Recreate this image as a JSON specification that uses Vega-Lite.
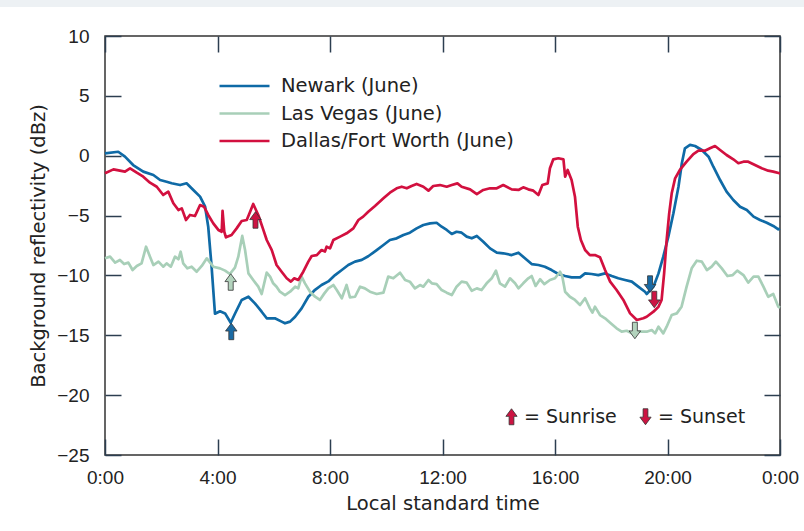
{
  "$schema": "https://vega.github.io/schema/vega-lite/v6.json",
  "width": 675,
  "height": 419,
  "autosize": {"type": "none"},
  "padding": {"left": 105, "top": 36, "right": 24, "bottom": 76},
  "background": "#ffffff",
  "config": {
    "font": "Liberation Sans",
    "view": {"stroke": "#333333", "strokeWidth": 1.5},
    "axis": {
      "zindex": 1, "domain": false, "grid": false,
      "tickColor": "#2c3e50", "tickWidth": 1.5, "tickSize": -16,
      "labelFontSize": 19, "labelColor": "#222222", "labelFont": "Liberation Sans",
      "titleFontSize": 19.5, "titleColor": "#222222", "titleFont": "DejaVu Sans", "titleFontWeight": "normal",
      "labelFlush": false, "labelOverlap": false
    },
    "legend": {"labelFont": "DejaVu Sans", "labelColor": "#222222", "labelLimit": 0}
  },
  "datasets": {
    "frame": [{"part": "left"}, {"part": "top"}],
    "series": [
      {"c":"Newark (June)","t":0,"v":0.2},{"c":"Newark (June)","t":0.47,"v":0.33},{"c":"Newark (June)","t":0.71,"v":-0.08},{"c":"Newark (June)","t":1.0,"v":-0.78},{"c":"Newark (June)","t":1.36,"v":-1.33},{"c":"Newark (June)","t":1.72,"v":-1.61},{"c":"Newark (June)","t":1.96,"v":-2.03},{"c":"Newark (June)","t":2.19,"v":-2.17},{"c":"Newark (June)","t":2.37,"v":-2.3},{"c":"Newark (June)","t":2.67,"v":-2.45},{"c":"Newark (June)","t":2.9,"v":-2.3},{"c":"Newark (June)","t":3.14,"v":-2.86},{"c":"Newark (June)","t":3.38,"v":-3.42},{"c":"Newark (June)","t":3.56,"v":-4.26},{"c":"Newark (June)","t":3.67,"v":-5.93},{"c":"Newark (June)","t":3.79,"v":-9.27},{"c":"Newark (June)","t":3.91,"v":-13.2},{"c":"Newark (June)","t":4.09,"v":-13.0},{"c":"Newark (June)","t":4.27,"v":-13.17},{"c":"Newark (June)","t":4.47,"v":-13.95},{"c":"Newark (June)","t":4.62,"v":-13.2},{"c":"Newark (June)","t":4.86,"v":-12.05},{"c":"Newark (June)","t":5.1,"v":-11.78},{"c":"Newark (June)","t":5.33,"v":-12.33},{"c":"Newark (June)","t":5.57,"v":-13.03},{"c":"Newark (June)","t":5.75,"v":-13.58},{"c":"Newark (June)","t":6.04,"v":-13.58},{"c":"Newark (June)","t":6.28,"v":-13.86},{"c":"Newark (June)","t":6.4,"v":-14.0},{"c":"Newark (June)","t":6.58,"v":-13.86},{"c":"Newark (June)","t":6.76,"v":-13.45},{"c":"Newark (June)","t":6.99,"v":-12.75},{"c":"Newark (June)","t":7.23,"v":-11.78},{"c":"Newark (June)","t":7.47,"v":-11.2},{"c":"Newark (June)","t":7.7,"v":-10.8},{"c":"Newark (June)","t":7.94,"v":-10.5},{"c":"Newark (June)","t":8.18,"v":-9.97},{"c":"Newark (June)","t":8.42,"v":-9.55},{"c":"Newark (June)","t":8.65,"v":-9.13},{"c":"Newark (June)","t":8.89,"v":-8.85},{"c":"Newark (June)","t":9.13,"v":-8.7},{"c":"Newark (June)","t":9.36,"v":-8.4},{"c":"Newark (June)","t":9.66,"v":-7.88},{"c":"Newark (June)","t":9.9,"v":-7.46},{"c":"Newark (June)","t":10.13,"v":-7.04},{"c":"Newark (June)","t":10.37,"v":-6.9},{"c":"Newark (June)","t":10.61,"v":-6.62},{"c":"Newark (June)","t":10.84,"v":-6.43},{"c":"Newark (June)","t":11.08,"v":-6.07},{"c":"Newark (June)","t":11.32,"v":-5.79},{"c":"Newark (June)","t":11.56,"v":-5.65},{"c":"Newark (June)","t":11.79,"v":-5.6},{"c":"Newark (June)","t":11.97,"v":-5.93},{"c":"Newark (June)","t":12.15,"v":-6.2},{"c":"Newark (June)","t":12.33,"v":-6.54},{"c":"Newark (June)","t":12.5,"v":-6.35},{"c":"Newark (June)","t":12.68,"v":-6.43},{"c":"Newark (June)","t":12.86,"v":-6.76},{"c":"Newark (June)","t":13.04,"v":-6.9},{"c":"Newark (June)","t":13.22,"v":-6.7},{"c":"Newark (June)","t":13.45,"v":-7.18},{"c":"Newark (June)","t":13.69,"v":-7.74},{"c":"Newark (June)","t":13.93,"v":-8.1},{"c":"Newark (June)","t":14.16,"v":-8.15},{"c":"Newark (June)","t":14.46,"v":-8.3},{"c":"Newark (June)","t":14.7,"v":-8.1},{"c":"Newark (June)","t":14.93,"v":-8.57},{"c":"Newark (June)","t":15.17,"v":-9.05},{"c":"Newark (June)","t":15.41,"v":-9.13},{"c":"Newark (June)","t":15.64,"v":-9.27},{"c":"Newark (June)","t":15.88,"v":-9.55},{"c":"Newark (June)","t":16.12,"v":-9.88},{"c":"Newark (June)","t":16.36,"v":-10.05},{"c":"Newark (June)","t":16.59,"v":-10.16},{"c":"Newark (June)","t":16.89,"v":-10.16},{"c":"Newark (June)","t":17.07,"v":-9.83},{"c":"Newark (June)","t":17.3,"v":-9.88},{"c":"Newark (June)","t":17.54,"v":-9.97},{"c":"Newark (June)","t":17.78,"v":-9.83},{"c":"Newark (June)","t":18.02,"v":-10.05},{"c":"Newark (June)","t":18.25,"v":-10.24},{"c":"Newark (June)","t":18.49,"v":-10.38},{"c":"Newark (June)","t":18.73,"v":-10.52},{"c":"Newark (June)","t":18.96,"v":-10.94},{"c":"Newark (June)","t":19.2,"v":-11.36},{"c":"Newark (June)","t":19.26,"v":-11.55},{"c":"Newark (June)","t":19.5,"v":-10.94},{"c":"Newark (June)","t":19.68,"v":-9.83},{"c":"Newark (June)","t":19.85,"v":-8.43},{"c":"Newark (June)","t":20.03,"v":-6.76},{"c":"Newark (June)","t":20.21,"v":-4.81},{"c":"Newark (June)","t":20.39,"v":-2.59},{"c":"Newark (June)","t":20.51,"v":-0.63},{"c":"Newark (June)","t":20.62,"v":0.62},{"c":"Newark (June)","t":20.8,"v":0.9},{"c":"Newark (June)","t":20.98,"v":0.81},{"c":"Newark (June)","t":21.22,"v":0.48},{"c":"Newark (June)","t":21.46,"v":-0.08},{"c":"Newark (June)","t":21.63,"v":-0.92},{"c":"Newark (June)","t":21.87,"v":-2.03},{"c":"Newark (June)","t":22.1,"v":-3.0},{"c":"Newark (June)","t":22.34,"v":-3.7},{"c":"Newark (June)","t":22.58,"v":-4.26},{"c":"Newark (June)","t":22.82,"v":-4.54},{"c":"Newark (June)","t":23.06,"v":-5.09},{"c":"Newark (June)","t":23.29,"v":-5.37},{"c":"Newark (June)","t":23.53,"v":-5.6},{"c":"Newark (June)","t":23.76,"v":-5.87},{"c":"Newark (June)","t":23.94,"v":-6.15},{"c":"Newark (June)","t":24,"v":-6.1},

      {"c":"Las Vegas (June)","t":0,"v":-8.57},{"c":"Las Vegas (June)","t":0.18,"v":-8.43},{"c":"Las Vegas (June)","t":0.36,"v":-8.93},{"c":"Las Vegas (June)","t":0.53,"v":-8.71},{"c":"Las Vegas (June)","t":0.68,"v":-9.05},{"c":"Las Vegas (June)","t":0.83,"v":-8.93},{"c":"Las Vegas (June)","t":0.98,"v":-9.55},{"c":"Las Vegas (June)","t":1.13,"v":-9.21},{"c":"Las Vegas (June)","t":1.3,"v":-8.99},{"c":"Las Vegas (June)","t":1.46,"v":-7.6},{"c":"Las Vegas (June)","t":1.6,"v":-8.43},{"c":"Las Vegas (June)","t":1.72,"v":-9.13},{"c":"Las Vegas (June)","t":1.9,"v":-8.85},{"c":"Las Vegas (June)","t":2.07,"v":-9.27},{"c":"Las Vegas (June)","t":2.19,"v":-8.99},{"c":"Las Vegas (June)","t":2.34,"v":-9.27},{"c":"Las Vegas (June)","t":2.49,"v":-8.43},{"c":"Las Vegas (June)","t":2.61,"v":-8.65},{"c":"Las Vegas (June)","t":2.69,"v":-8.02},{"c":"Las Vegas (June)","t":2.78,"v":-8.99},{"c":"Las Vegas (June)","t":2.93,"v":-9.41},{"c":"Las Vegas (June)","t":3.08,"v":-9.27},{"c":"Las Vegas (June)","t":3.26,"v":-9.69},{"c":"Las Vegas (June)","t":3.44,"v":-9.21},{"c":"Las Vegas (June)","t":3.62,"v":-8.57},{"c":"Las Vegas (June)","t":3.85,"v":-9.27},{"c":"Las Vegas (June)","t":4.09,"v":-9.41},{"c":"Las Vegas (June)","t":4.27,"v":-9.6},{"c":"Las Vegas (June)","t":4.44,"v":-9.88},{"c":"Las Vegas (June)","t":4.62,"v":-9.35},{"c":"Las Vegas (June)","t":4.74,"v":-8.43},{"c":"Las Vegas (June)","t":4.88,"v":-6.7},{"c":"Las Vegas (June)","t":4.98,"v":-7.88},{"c":"Las Vegas (June)","t":5.1,"v":-9.83},{"c":"Las Vegas (June)","t":5.27,"v":-10.38},{"c":"Las Vegas (June)","t":5.45,"v":-10.94},{"c":"Las Vegas (June)","t":5.57,"v":-11.55},{"c":"Las Vegas (June)","t":5.75,"v":-9.77},{"c":"Las Vegas (June)","t":5.87,"v":-10.1},{"c":"Las Vegas (June)","t":5.98,"v":-10.66},{"c":"Las Vegas (June)","t":6.1,"v":-10.94},{"c":"Las Vegas (June)","t":6.22,"v":-11.36},{"c":"Las Vegas (June)","t":6.4,"v":-11.64},{"c":"Las Vegas (June)","t":6.58,"v":-11.36},{"c":"Las Vegas (June)","t":6.76,"v":-10.94},{"c":"Las Vegas (June)","t":6.87,"v":-11.08},{"c":"Las Vegas (June)","t":6.99,"v":-10.1},{"c":"Las Vegas (June)","t":7.11,"v":-10.66},{"c":"Las Vegas (June)","t":7.29,"v":-11.36},{"c":"Las Vegas (June)","t":7.47,"v":-11.78},{"c":"Las Vegas (June)","t":7.64,"v":-12.05},{"c":"Las Vegas (June)","t":7.8,"v":-11.5},{"c":"Las Vegas (June)","t":7.94,"v":-11.08},{"c":"Las Vegas (June)","t":8.12,"v":-10.8},{"c":"Las Vegas (June)","t":8.24,"v":-11.22},{"c":"Las Vegas (June)","t":8.42,"v":-11.91},{"c":"Las Vegas (June)","t":8.59,"v":-10.8},{"c":"Las Vegas (June)","t":8.71,"v":-11.83},{"c":"Las Vegas (June)","t":8.89,"v":-11.78},{"c":"Las Vegas (June)","t":9.07,"v":-10.94},{"c":"Las Vegas (June)","t":9.24,"v":-11.08},{"c":"Las Vegas (June)","t":9.42,"v":-11.36},{"c":"Las Vegas (June)","t":9.66,"v":-11.55},{"c":"Las Vegas (June)","t":9.9,"v":-11.44},{"c":"Las Vegas (June)","t":10.07,"v":-10.1},{"c":"Las Vegas (June)","t":10.25,"v":-10.24},{"c":"Las Vegas (June)","t":10.49,"v":-9.77},{"c":"Las Vegas (June)","t":10.67,"v":-10.38},{"c":"Las Vegas (June)","t":10.84,"v":-10.52},{"c":"Las Vegas (June)","t":11.02,"v":-11.08},{"c":"Las Vegas (June)","t":11.2,"v":-10.8},{"c":"Las Vegas (June)","t":11.32,"v":-10.94},{"c":"Las Vegas (June)","t":11.5,"v":-10.38},{"c":"Las Vegas (June)","t":11.62,"v":-10.66},{"c":"Las Vegas (June)","t":11.79,"v":-10.72},{"c":"Las Vegas (June)","t":11.97,"v":-11.22},{"c":"Las Vegas (June)","t":12.15,"v":-11.44},{"c":"Las Vegas (June)","t":12.33,"v":-11.64},{"c":"Las Vegas (June)","t":12.5,"v":-10.94},{"c":"Las Vegas (June)","t":12.68,"v":-10.52},{"c":"Las Vegas (June)","t":12.86,"v":-10.6},{"c":"Las Vegas (June)","t":13.04,"v":-11.28},{"c":"Las Vegas (June)","t":13.22,"v":-11.08},{"c":"Las Vegas (June)","t":13.39,"v":-11.22},{"c":"Las Vegas (June)","t":13.57,"v":-10.66},{"c":"Las Vegas (June)","t":13.75,"v":-10.24},{"c":"Las Vegas (June)","t":13.9,"v":-9.6},{"c":"Las Vegas (June)","t":14.04,"v":-10.66},{"c":"Las Vegas (June)","t":14.22,"v":-10.94},{"c":"Las Vegas (June)","t":14.4,"v":-10.24},{"c":"Las Vegas (June)","t":14.58,"v":-10.66},{"c":"Las Vegas (June)","t":14.7,"v":-11.08},{"c":"Las Vegas (June)","t":14.87,"v":-10.66},{"c":"Las Vegas (June)","t":15.05,"v":-10.24},{"c":"Las Vegas (June)","t":15.17,"v":-10.05},{"c":"Las Vegas (June)","t":15.31,"v":-10.88},{"c":"Las Vegas (June)","t":15.47,"v":-10.32},{"c":"Las Vegas (June)","t":15.62,"v":-10.72},{"c":"Las Vegas (June)","t":15.82,"v":-10.38},{"c":"Las Vegas (June)","t":16.0,"v":-10.24},{"c":"Las Vegas (June)","t":16.18,"v":-9.69},{"c":"Las Vegas (June)","t":16.26,"v":-10.1},{"c":"Las Vegas (June)","t":16.36,"v":-11.36},{"c":"Las Vegas (June)","t":16.53,"v":-11.78},{"c":"Las Vegas (June)","t":16.71,"v":-12.05},{"c":"Las Vegas (June)","t":16.89,"v":-12.47},{"c":"Las Vegas (June)","t":17.07,"v":-11.91},{"c":"Las Vegas (June)","t":17.24,"v":-12.75},{"c":"Las Vegas (June)","t":17.33,"v":-13.11},{"c":"Las Vegas (June)","t":17.42,"v":-12.61},{"c":"Las Vegas (June)","t":17.6,"v":-13.31},{"c":"Las Vegas (June)","t":17.78,"v":-13.58},{"c":"Las Vegas (June)","t":17.96,"v":-13.95},{"c":"Las Vegas (June)","t":18.19,"v":-14.42},{"c":"Las Vegas (June)","t":18.37,"v":-14.7},{"c":"Las Vegas (June)","t":18.55,"v":-14.62},{"c":"Las Vegas (June)","t":18.79,"v":-14.9},{"c":"Las Vegas (June)","t":18.96,"v":-14.7},{"c":"Las Vegas (June)","t":19.14,"v":-14.7},{"c":"Las Vegas (June)","t":19.26,"v":-14.7},{"c":"Las Vegas (June)","t":19.44,"v":-14.56},{"c":"Las Vegas (June)","t":19.56,"v":-14.84},{"c":"Las Vegas (June)","t":19.68,"v":-14.28},{"c":"Las Vegas (June)","t":19.85,"v":-14.84},{"c":"Las Vegas (June)","t":19.97,"v":-14.28},{"c":"Las Vegas (June)","t":20.15,"v":-13.31},{"c":"Las Vegas (June)","t":20.33,"v":-13.17},{"c":"Las Vegas (June)","t":20.5,"v":-12.61},{"c":"Las Vegas (June)","t":20.68,"v":-10.94},{"c":"Las Vegas (June)","t":20.86,"v":-9.41},{"c":"Las Vegas (June)","t":21.04,"v":-8.77},{"c":"Las Vegas (June)","t":21.22,"v":-8.85},{"c":"Las Vegas (June)","t":21.4,"v":-9.55},{"c":"Las Vegas (June)","t":21.57,"v":-9.27},{"c":"Las Vegas (June)","t":21.72,"v":-8.85},{"c":"Las Vegas (June)","t":21.93,"v":-9.41},{"c":"Las Vegas (June)","t":22.13,"v":-10.05},{"c":"Las Vegas (June)","t":22.32,"v":-9.97},{"c":"Las Vegas (June)","t":22.48,"v":-9.6},{"c":"Las Vegas (June)","t":22.7,"v":-9.97},{"c":"Las Vegas (June)","t":22.87,"v":-10.6},{"c":"Las Vegas (June)","t":23.06,"v":-10.1},{"c":"Las Vegas (June)","t":23.23,"v":-10.1},{"c":"Las Vegas (June)","t":23.41,"v":-10.94},{"c":"Las Vegas (June)","t":23.58,"v":-11.78},{"c":"Las Vegas (June)","t":23.76,"v":-11.55},{"c":"Las Vegas (June)","t":23.94,"v":-12.61},{"c":"Las Vegas (June)","t":24,"v":-12.7},

      {"c":"Dallas/Fort Worth (June)","t":0,"v":-1.47},{"c":"Dallas/Fort Worth (June)","t":0.3,"v":-1.14},{"c":"Dallas/Fort Worth (June)","t":0.53,"v":-1.25},{"c":"Dallas/Fort Worth (June)","t":0.71,"v":-1.33},{"c":"Dallas/Fort Worth (June)","t":0.89,"v":-1.05},{"c":"Dallas/Fort Worth (June)","t":1.13,"v":-1.42},{"c":"Dallas/Fort Worth (June)","t":1.36,"v":-1.75},{"c":"Dallas/Fort Worth (June)","t":1.6,"v":-2.25},{"c":"Dallas/Fort Worth (June)","t":1.84,"v":-2.59},{"c":"Dallas/Fort Worth (June)","t":2.07,"v":-3.28},{"c":"Dallas/Fort Worth (June)","t":2.25,"v":-3.0},{"c":"Dallas/Fort Worth (June)","t":2.43,"v":-3.97},{"c":"Dallas/Fort Worth (June)","t":2.61,"v":-4.54},{"c":"Dallas/Fort Worth (June)","t":2.73,"v":-4.4},{"c":"Dallas/Fort Worth (June)","t":2.88,"v":-5.37},{"c":"Dallas/Fort Worth (June)","t":3.02,"v":-4.95},{"c":"Dallas/Fort Worth (June)","t":3.2,"v":-5.04},{"c":"Dallas/Fort Worth (June)","t":3.38,"v":-4.12},{"c":"Dallas/Fort Worth (June)","t":3.52,"v":-4.26},{"c":"Dallas/Fort Worth (June)","t":3.67,"v":-4.95},{"c":"Dallas/Fort Worth (June)","t":3.85,"v":-5.65},{"c":"Dallas/Fort Worth (June)","t":4.03,"v":-6.2},{"c":"Dallas/Fort Worth (June)","t":4.15,"v":-6.35},{"c":"Dallas/Fort Worth (June)","t":4.18,"v":-4.6},{"c":"Dallas/Fort Worth (June)","t":4.24,"v":-6.35},{"c":"Dallas/Fort Worth (June)","t":4.3,"v":-6.82},{"c":"Dallas/Fort Worth (June)","t":4.5,"v":-6.62},{"c":"Dallas/Fort Worth (June)","t":4.68,"v":-6.07},{"c":"Dallas/Fort Worth (June)","t":4.86,"v":-5.45},{"c":"Dallas/Fort Worth (June)","t":5.04,"v":-5.37},{"c":"Dallas/Fort Worth (June)","t":5.16,"v":-4.68},{"c":"Dallas/Fort Worth (June)","t":5.27,"v":-4.03},{"c":"Dallas/Fort Worth (June)","t":5.45,"v":-4.95},{"c":"Dallas/Fort Worth (June)","t":5.63,"v":-6.2},{"c":"Dallas/Fort Worth (June)","t":5.75,"v":-7.04},{"c":"Dallas/Fort Worth (June)","t":5.93,"v":-7.88},{"c":"Dallas/Fort Worth (June)","t":6.1,"v":-9.13},{"c":"Dallas/Fort Worth (June)","t":6.28,"v":-9.69},{"c":"Dallas/Fort Worth (June)","t":6.46,"v":-10.24},{"c":"Dallas/Fort Worth (June)","t":6.61,"v":-10.52},{"c":"Dallas/Fort Worth (June)","t":6.73,"v":-10.24},{"c":"Dallas/Fort Worth (June)","t":6.87,"v":-10.38},{"c":"Dallas/Fort Worth (June)","t":7.05,"v":-9.69},{"c":"Dallas/Fort Worth (June)","t":7.23,"v":-8.85},{"c":"Dallas/Fort Worth (June)","t":7.35,"v":-8.38},{"c":"Dallas/Fort Worth (June)","t":7.53,"v":-8.3},{"c":"Dallas/Fort Worth (June)","t":7.7,"v":-7.88},{"c":"Dallas/Fort Worth (June)","t":7.82,"v":-8.0},{"c":"Dallas/Fort Worth (June)","t":7.88,"v":-7.6},{"c":"Dallas/Fort Worth (June)","t":8.0,"v":-7.74},{"c":"Dallas/Fort Worth (June)","t":8.12,"v":-7.04},{"c":"Dallas/Fort Worth (June)","t":8.36,"v":-6.76},{"c":"Dallas/Fort Worth (June)","t":8.59,"v":-6.48},{"c":"Dallas/Fort Worth (June)","t":8.83,"v":-6.07},{"c":"Dallas/Fort Worth (June)","t":9.01,"v":-5.37},{"c":"Dallas/Fort Worth (June)","t":9.18,"v":-5.09},{"c":"Dallas/Fort Worth (June)","t":9.36,"v":-4.68},{"c":"Dallas/Fort Worth (June)","t":9.6,"v":-4.2},{"c":"Dallas/Fort Worth (June)","t":9.9,"v":-3.56},{"c":"Dallas/Fort Worth (June)","t":10.13,"v":-3.09},{"c":"Dallas/Fort Worth (June)","t":10.37,"v":-2.72},{"c":"Dallas/Fort Worth (June)","t":10.55,"v":-2.59},{"c":"Dallas/Fort Worth (June)","t":10.73,"v":-2.72},{"c":"Dallas/Fort Worth (June)","t":10.9,"v":-2.53},{"c":"Dallas/Fort Worth (June)","t":11.08,"v":-2.36},{"c":"Dallas/Fort Worth (June)","t":11.32,"v":-2.59},{"c":"Dallas/Fort Worth (June)","t":11.5,"v":-2.92},{"c":"Dallas/Fort Worth (June)","t":11.67,"v":-2.53},{"c":"Dallas/Fort Worth (June)","t":11.91,"v":-2.45},{"c":"Dallas/Fort Worth (June)","t":12.15,"v":-2.59},{"c":"Dallas/Fort Worth (June)","t":12.33,"v":-2.45},{"c":"Dallas/Fort Worth (June)","t":12.53,"v":-2.31},{"c":"Dallas/Fort Worth (June)","t":12.68,"v":-2.59},{"c":"Dallas/Fort Worth (June)","t":12.98,"v":-2.81},{"c":"Dallas/Fort Worth (June)","t":13.22,"v":-3.2},{"c":"Dallas/Fort Worth (June)","t":13.45,"v":-2.86},{"c":"Dallas/Fort Worth (June)","t":13.69,"v":-2.72},{"c":"Dallas/Fort Worth (June)","t":13.93,"v":-2.72},{"c":"Dallas/Fort Worth (June)","t":14.16,"v":-2.45},{"c":"Dallas/Fort Worth (June)","t":14.46,"v":-2.81},{"c":"Dallas/Fort Worth (June)","t":14.7,"v":-2.86},{"c":"Dallas/Fort Worth (June)","t":14.87,"v":-2.64},{"c":"Dallas/Fort Worth (June)","t":15.05,"v":-2.81},{"c":"Dallas/Fort Worth (June)","t":15.23,"v":-2.92},{"c":"Dallas/Fort Worth (June)","t":15.41,"v":-3.28},{"c":"Dallas/Fort Worth (June)","t":15.55,"v":-2.45},{"c":"Dallas/Fort Worth (June)","t":15.74,"v":-2.31},{"c":"Dallas/Fort Worth (June)","t":15.82,"v":-1.05},{"c":"Dallas/Fort Worth (June)","t":15.94,"v":-0.3},{"c":"Dallas/Fort Worth (June)","t":16.12,"v":-0.21},{"c":"Dallas/Fort Worth (June)","t":16.3,"v":-0.3},{"c":"Dallas/Fort Worth (June)","t":16.36,"v":-1.75},{"c":"Dallas/Fort Worth (June)","t":16.45,"v":-1.19},{"c":"Dallas/Fort Worth (June)","t":16.59,"v":-2.03},{"c":"Dallas/Fort Worth (June)","t":16.71,"v":-3.42},{"c":"Dallas/Fort Worth (June)","t":16.81,"v":-5.93},{"c":"Dallas/Fort Worth (June)","t":16.92,"v":-7.04},{"c":"Dallas/Fort Worth (June)","t":17.07,"v":-7.88},{"c":"Dallas/Fort Worth (June)","t":17.24,"v":-8.3},{"c":"Dallas/Fort Worth (June)","t":17.42,"v":-8.3},{"c":"Dallas/Fort Worth (June)","t":17.6,"v":-8.49},{"c":"Dallas/Fort Worth (June)","t":17.78,"v":-9.55},{"c":"Dallas/Fort Worth (June)","t":17.96,"v":-10.52},{"c":"Dallas/Fort Worth (June)","t":18.19,"v":-11.22},{"c":"Dallas/Fort Worth (June)","t":18.43,"v":-12.05},{"c":"Dallas/Fort Worth (June)","t":18.67,"v":-13.17},{"c":"Dallas/Fort Worth (June)","t":18.91,"v":-13.72},{"c":"Dallas/Fort Worth (June)","t":19.14,"v":-13.58},{"c":"Dallas/Fort Worth (June)","t":19.26,"v":-13.45},{"c":"Dallas/Fort Worth (June)","t":19.5,"v":-13.03},{"c":"Dallas/Fort Worth (June)","t":19.68,"v":-12.61},{"c":"Dallas/Fort Worth (June)","t":19.79,"v":-12.05},{"c":"Dallas/Fort Worth (June)","t":19.88,"v":-9.83},{"c":"Dallas/Fort Worth (June)","t":19.97,"v":-7.04},{"c":"Dallas/Fort Worth (June)","t":20.06,"v":-4.81},{"c":"Dallas/Fort Worth (June)","t":20.15,"v":-3.14},{"c":"Dallas/Fort Worth (June)","t":20.27,"v":-1.89},{"c":"Dallas/Fort Worth (June)","t":20.44,"v":-1.19},{"c":"Dallas/Fort Worth (June)","t":20.68,"v":-0.5},{"c":"Dallas/Fort Worth (June)","t":20.92,"v":0.14},{"c":"Dallas/Fort Worth (June)","t":21.1,"v":0.42},{"c":"Dallas/Fort Worth (June)","t":21.33,"v":0.42},{"c":"Dallas/Fort Worth (June)","t":21.51,"v":0.62},{"c":"Dallas/Fort Worth (June)","t":21.69,"v":0.81},{"c":"Dallas/Fort Worth (June)","t":21.87,"v":0.48},{"c":"Dallas/Fort Worth (June)","t":22.1,"v":0.06},{"c":"Dallas/Fort Worth (June)","t":22.34,"v":-0.3},{"c":"Dallas/Fort Worth (June)","t":22.52,"v":-0.63},{"c":"Dallas/Fort Worth (June)","t":22.7,"v":-0.5},{"c":"Dallas/Fort Worth (June)","t":22.87,"v":-0.5},{"c":"Dallas/Fort Worth (June)","t":23.11,"v":-0.78},{"c":"Dallas/Fort Worth (June)","t":23.35,"v":-1.05},{"c":"Dallas/Fort Worth (June)","t":23.58,"v":-1.25},{"c":"Dallas/Fort Worth (June)","t":23.76,"v":-1.33},{"c":"Dallas/Fort Worth (June)","t":23.98,"v":-1.47},{"c":"Dallas/Fort Worth (June)","t":24,"v":-1.47}
    ],
    "events": [
      {"c":"Newark (June)","e":"Sunrise","t":4.49,"v":-14.68},
      {"c":"Las Vegas (June)","e":"Sunrise","t":4.47,"v":-10.55},
      {"c":"Dallas/Fort Worth (June)","e":"Sunrise","t":5.35,"v":-5.37},
      {"c":"Newark (June)","e":"Sunset","t":19.38,"v":-10.72},
      {"c":"Dallas/Fort Worth (June)","e":"Sunset","t":19.53,"v":-12.01},
      {"c":"Las Vegas (June)","e":"Sunset","t":18.84,"v":-14.6}
    ]
  },
  "layer": [
    {
      "data": {"name": "frame"},
      "mark": {"type": "rect", "fill": "#edf1f4"},
      "encoding": {
        "x": {"condition": {"test": "datum.part === 'left'", "datum": -5}, "datum": -5, "type": "quantitative", "scale": {"domain": [0, 24], "nice": false, "zero": false}, "axis": null},
        "x2": {"condition": {"test": "datum.part === 'left'", "datum": -3.31}, "datum": 27},
        "y": {"condition": {"test": "datum.part === 'left'", "datum": 14}, "datum": 14, "type": "quantitative", "scale": {"domain": [-25, 10], "nice": false, "zero": false}, "axis": null},
        "y2": {"condition": {"test": "datum.part === 'left'", "datum": -32}, "datum": 12.42}
      }
    },
    {
      "data": {"name": "series"},
      "mark": {"type": "line", "strokeWidth": 2.7, "strokeJoin": "round"},
      "encoding": {
        "x": {"field": "t", "type": "quantitative",
          "scale": {"domain": [0, 24], "nice": false, "zero": false},
          "axis": {"orient": "bottom", "values": [0, 4, 8, 12, 16, 20, 24], "labelExpr": "(datum.value % 24) + ':00'", "labelPadding": 29, "title": "Local standard time", "titlePadding": 7}},
        "y": {"field": "v", "type": "quantitative",
          "scale": {"domain": [-25, 10], "nice": false, "zero": false},
          "axis": {"orient": "left", "values": [-25, -20, -15, -10, -5, 0, 5, 10], "labelPadding": 32, "title": "Background reflectivity (dBz)", "titlePadding": 8}},
        "color": {"field": "c", "type": "nominal",
          "scale": {"domain": ["Newark (June)", "Las Vegas (June)", "Dallas/Fort Worth (June)"], "range": ["#0f6aa6", "#a8cfb8", "#d2103f"]},
          "legend": {"orient": "none", "legendX": 113, "legendY": 40, "title": null, "symbolType": "stroke", "symbolSize": 2500, "symbolStrokeWidth": 2.7, "labelFontSize": 19.5, "labelOffset": 10, "clipHeight": 20, "rowPadding": 7.5}},
        "order": {"field": "t", "type": "quantitative"}
      }
    },
    {
      "data": {"name": "events"},
      "mark": {"type": "point", "filled": true, "stroke": "#333333", "strokeWidth": 0.8, "size": 272, "opacity": 1},
      "encoding": {
        "x": {"field": "t", "type": "quantitative",
          "scale": {"domain": [0, 24], "nice": false, "zero": false},
          "axis": {"orient": "top", "values": [0, 4, 8, 12, 16, 20, 24], "labels": false, "title": null}},
        "y": {"field": "v", "type": "quantitative",
          "scale": {"domain": [-25, 10], "nice": false, "zero": false},
          "axis": {"orient": "right", "values": [-25, -20, -15, -10, -5, 0, 5, 10], "labels": false, "title": null}},
        "fill": {"field": "c", "type": "nominal",
          "scale": {"domain": ["Newark (June)", "Las Vegas (June)", "Dallas/Fort Worth (June)"], "range": ["#1a6aa3", "#b3d3bd", "#cc1442"]},
          "legend": null},
        "shape": {"field": "e", "type": "nominal",
          "scale": {"domain": ["Sunrise", "Sunset"], "range": ["M0,-1L0.7,-0.05L0.3,-0.05L0.3,1L-0.3,1L-0.3,-0.05L-0.7,-0.05Z", "M0,1L0.7,0.05L0.3,0.05L0.3,-1L-0.3,-1L-0.3,0.05L-0.7,0.05Z"]},
          "legend": {"orient": "none", "legendX": 397, "legendY": 371, "direction": "horizontal", "title": null, "symbolFillColor": "#cc1442", "symbolStrokeColor": "#333333", "symbolStrokeWidth": 0.8, "symbolSize": 256, "labelFontSize": 19, "labelOffset": 3, "columnPadding": 19, "labelExpr": "'= ' + datum.label"}}
      }
    }
  ],
  "resolve": {"axis": {"x": "independent", "y": "independent"}}
}
